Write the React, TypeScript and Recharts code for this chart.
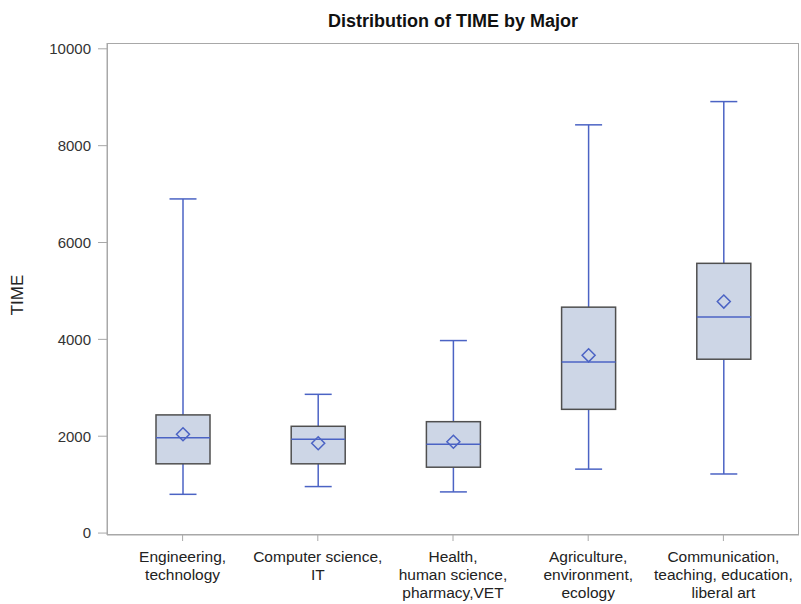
import React from 'react';
import { ComposedChart, Bar, XAxis, YAxis } from 'recharts';

// box plot statistics per major
const majors = [
  'Engineering,\ntechnology',
  'Computer science,\nIT',
  'Health,\nhuman science,\npharmacy,VET',
  'Agriculture,\nenvironment,\necology',
  'Communication,\nteaching, education,\nliberal art',
];
const whiskerLow = [800, 960, 850, 1320, 1220];
const q1 = [1430, 1430, 1360, 2555, 3590];
const median = [1970, 1935, 1835, 3535, 4460];
const mean = [2040, 1855, 1885, 3670, 4780];
const q3 = [2440, 2205, 2300, 4665, 5570];
const whiskerHigh = [6900, 2865, 3975, 8430, 8910];
const yTicks = [0, 2000, 4000, 6000, 8000, 10000];

const data = majors.map((major, i) => ({
  major,
  low: whiskerLow[i],
  q1: q1[i],
  median: median[i],
  mean: mean[i],
  q3: q3[i],
  high: whiskerHigh[i],
  range: [whiskerLow[i], whiskerHigh[i]],
}));

const WHISKER = '#4b63c4';
const BOX_FILL = '#cdd6e6';
const BOX_EDGE = '#4f4f4f';
const FONT = '"Liberation Sans", Arial, sans-serif';

const BoxShape = (props: any) => {
  const { x, y, width, height, payload } = props;
  const { low, high } = payload;
  // map a value into the pixel span the range bar occupies
  const toY = (v: number) => y + (height * (high - v)) / (high - low);
  const cx = x + width / 2;
  const cap = width / 4;
  const yQ1 = toY(payload.q1);
  const yQ3 = toY(payload.q3);
  const yMed = toY(payload.median);
  const yMean = toY(payload.mean);
  const d = 6.5;
  return (
    <g>
      <line x1={cx} x2={cx} y1={toY(high)} y2={yQ3} stroke={WHISKER} strokeWidth={1.5} />
      <line x1={cx} x2={cx} y1={yQ1} y2={toY(low)} stroke={WHISKER} strokeWidth={1.5} />
      <line x1={cx - cap} x2={cx + cap} y1={toY(high)} y2={toY(high)} stroke={WHISKER} strokeWidth={1.5} />
      <line x1={cx - cap} x2={cx + cap} y1={toY(low)} y2={toY(low)} stroke={WHISKER} strokeWidth={1.5} />
      <rect x={x} y={yQ3} width={width} height={yQ1 - yQ3} fill={BOX_FILL} stroke={BOX_EDGE} strokeWidth={1.5} />
      <line x1={x} x2={x + width} y1={yMed} y2={yMed} stroke={WHISKER} strokeWidth={1.5} />
      <path
        d={`M${cx},${yMean - d} L${cx + d},${yMean} L${cx},${yMean + d} L${cx - d},${yMean} Z`}
        fill="none"
        stroke={WHISKER}
        strokeWidth={1.5}
      />
    </g>
  );
};

const MajorTick = (props: any) => {
  const { x, y, payload } = props;
  const lines = String(payload.value).split('\n');
  return (
    <text x={x} y={y} textAnchor="middle" fill="#222" fontSize={15.5} fontFamily={FONT}>
      {lines.map((line, i) => (
        <tspan key={i} x={x} dy={i === 0 ? 19 : 18}>
          {line}
        </tspan>
      ))}
    </text>
  );
};

export default function App() {
  return (
    <div style={{ position: 'absolute', left: 0, top: 0, width: 801, height: 604, background: '#fff' }}>
      <div
        style={{
          position: 'absolute',
          left: 0,
          width: 906,
          top: 11,
          lineHeight: '21px',
          textAlign: 'center',
          fontFamily: FONT,
          fontWeight: 'bold',
          fontSize: 18,
          color: '#111',
        }}
      >
        Distribution of TIME by Major
      </div>
      <div
        style={{
          position: 'absolute',
          left: 18,
          top: 295,
          transform: 'translate(-50%, -50%) rotate(-90deg)',
          fontFamily: FONT,
          fontSize: 17,
          color: '#222',
        }}
      >
        TIME
      </div>
      <ComposedChart
        width={801}
        height={604}
        data={data}
        margin={{ top: 43, right: 2, left: 0, bottom: 0 }}
      >
        <XAxis
          dataKey="major"
          height={69}
          interval={0}
          padding={{ left: 8, right: 8 }}
          axisLine={{ stroke: '#a8a8a8' }}
          tickLine={{ stroke: '#a8a8a8' }}
          tickSize={6}
          tick={<MajorTick />}
        />
        <YAxis
          width={107}
          domain={[-40, 10120]}
          ticks={yTicks}
          allowDataOverflow
          axisLine={{ stroke: '#a8a8a8' }}
          tickLine={{ stroke: '#a8a8a8' }}
          tickSize={9}
          tickMargin={7}
          tick={{ fill: '#333', fontSize: 15, fontFamily: FONT }}
        />
        <Bar dataKey="range" barSize={54} shape={<BoxShape />} isAnimationActive={false} />
      </ComposedChart>
      <div
        style={{
          position: 'absolute',
          left: 107,
          top: 43,
          width: 692,
          height: 492,
          border: '1px solid #a8a8a8',
          boxSizing: 'border-box',
          pointerEvents: 'none',
        }}
      />
    </div>
  );
}
